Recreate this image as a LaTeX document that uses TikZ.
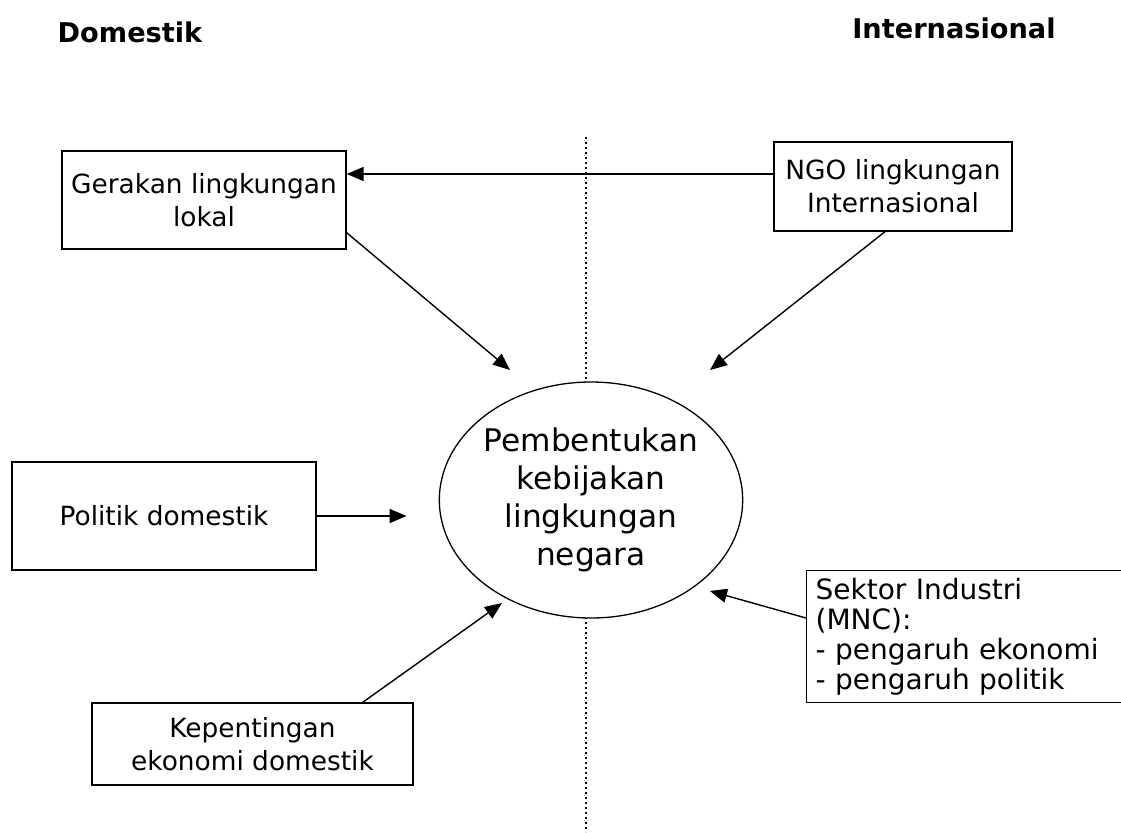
\documentclass[tikz,border=0pt]{standalone}
\usepackage{fontspec}
\setmainfont{DejaVu Sans}
\usetikzlibrary{arrows.meta,positioning,calc,shapes.geometric}

\begin{document}
\begin{tikzpicture}[x=0.5pt,y=-0.5pt,
  every node/.style={font=\fontsize{13.2}{16.5}\selectfont},
  bx/.style={draw,line width=0.65pt,align=center,inner sep=2pt},
  el/.style={draw,ellipse,line width=0.65pt,fill=white,minimum width=147pt,minimum height=118pt,inner sep=0pt,align=center,font=\fontsize{15.6}{19}\selectfont},
  ar/.style={line width=0.7pt,-{Triangle[length=8.5pt,width=7pt]}},
  hd/.style={font=\fontsize{13.6}{16}\selectfont\bfseries},
  sp/.style={line width=0.65pt,dash pattern=on 1.2pt off 1.3pt}
]
\useasboundingbox (0,0) rectangle (1121,832);
\node[hd] (dom) at (130,32) {Domestik};
\node[hd] (intl) at (954,28) {Internasional};
\coordinate (ltop) at (586,137);
\coordinate (lbot) at (586,832);
\draw[sp] (ltop) -- (lbot);
\node[el] (ell) at (591,500) {Pembentukan\\kebijakan\\lingkungan\\negara};
\node[bx,minimum width=142pt,minimum height=49pt] (ger) at (204,200) {Gerakan lingkungan\\lokal};
\node[bx,minimum width=119pt,minimum height=44.5pt] (ngo) at (893,186.5) {NGO lingkungan\\Internasional};
\node[bx,minimum width=152pt,minimum height=54pt] (pol) at (164,516) {Politik domestik};
\node[bx,minimum width=160.5pt,minimum height=41pt] (kep) at (252.5,744) {Kepentingan\\ekonomi domestik};
\node[bx,anchor=north west,align=left,text width=155pt,inner xsep=4.5pt,inner ysep=1.5pt,
  minimum height=66pt,font=\fontsize{14}{15}\selectfont] (sek) at (806,570)
  {Sektor Industri\\(MNC):\\- pengaruh ekonomi\\- pengaruh politik};
\coordinate (t1) at ($(ell.center)+(-81,-130)$);
\coordinate (t2) at ($(ell.center)+(119,-130)$);
\coordinate (t3) at ($(pol.east)+(90,0)$);
\coordinate (t4) at ($(ell.center)+(-89,103)$);
\coordinate (t5) at ($(ell.center)+(119,91)$);
\draw[ar] ([yshift=6.25pt]ngo.west) -- ([yshift=6.25pt]ngo.west -| ger.east);
\draw[ar] ([yshift=8.5pt]ger.south east) -- (t1);
\draw[ar] ([xshift=-4pt]ngo.south) -- (t2);
\draw[ar] (pol.east) -- (t3);
\draw[ar] ([xshift=-25.5pt]kep.north east) -- (t4);
\draw[ar] ([yshift=-24pt]sek.north west) -- (t5);
\end{tikzpicture}
\end{document}
